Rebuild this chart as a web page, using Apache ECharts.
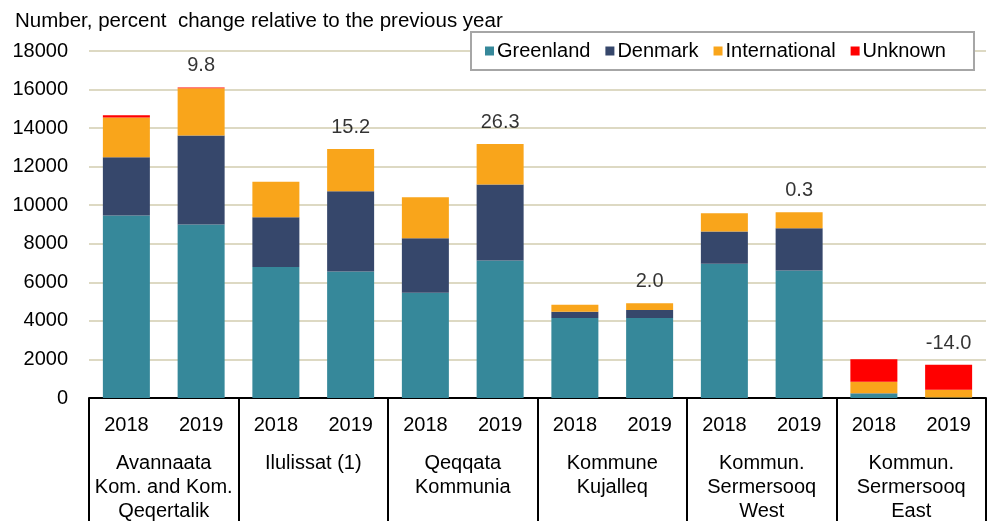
<!DOCTYPE html>
<html>
<head>
<meta charset="utf-8">
<script src="https://cdn.jsdelivr.net/npm/echarts@6/dist/echarts.min.js"></script>
<style>
  html, body { margin: 0; padding: 0; background: #fff; }
  #chart { width: 995px; height: 521px; }
</style>
</head>
<body>
<div id="chart"></div>
<script>
const years = ['2018', '2019', '2018', '2019', '2018', '2019', '2018', '2019', '2018', '2019', '2018', '2019'];
const groups = [
  'Avannaata\nKom. and Kom.\nQeqertalik',
  'Ilulissat (1)',
  'Qeqqata\nKommunia',
  'Kommune\nKujalleq',
  'Kommun.\nSermersooq\nWest',
  'Kommun.\nSermersooq\nEast',
];
const greenland = [9470, 9000, 6800, 6560, 5460, 7130, 4150, 4150, 6960, 6610, 230, 20];
const denmark = [3020, 4620, 2580, 4160, 2830, 3950, 330, 410, 1680, 2200, 20, 10];
const international = [2060, 2450, 1840, 2200, 2130, 2100, 360, 360, 950, 820, 590, 400];
const unknown = [120, 40, 0, 0, 0, 0, 0, 0, 0, 0, 1170, 1300];
const pctChange = ['', '9.8', '', '15.2', '', '26.3', '', '2.0', '', '0.3', '', '-14.0'];

const FONT = '"Liberation Sans", Arial, sans-serif';
const FS = 20;
const totals = years.map((_, i) => greenland[i] + denmark[i] + international[i] + unknown[i]);
const labelPoints = totals.map((t, i) => (pctChange[i] ? t : '-'));

const chart = echarts.init(document.getElementById('chart'));

function barSeries(name, data, color) {
  return {
    name,
    type: 'bar',
    stack: 'total',
    data,
    barWidth: 47,
    itemStyle: { color },
  };
}

chart.setOption({
  animation: false,
  textStyle: { fontFamily: FONT },
  title: {
    text: 'Number, percent  change relative to the previous year',
    left: 10,
    top: 6,
    textStyle: { fontFamily: FONT, fontSize: 20.5, fontWeight: 'normal', color: '#000' },
  },
  legend: {
    left: 471,
    top: 32,
    padding: [9, 28, 9, 14],
    itemGap: 15,
    itemWidth: 9,
    itemHeight: 9,
    icon: 'rect',
    borderColor: '#a6a6a6',
    borderWidth: 2,
    backgroundColor: '#fff',
    textStyle: { fontFamily: FONT, fontSize: FS, color: '#000', padding: [0, 0, 0, -2] },
    data: ['Greenland', 'Denmark', 'International', 'Unknown'],
  },
  grid: { left: 89, right: 9, top: 51, bottom: 123, containLabel: false, outerBoundsMode: 'none' },
  xAxis: [
    {
      type: 'category',
      data: years,
      position: 'bottom',
      axisLine: { show: true, lineStyle: { color: '#000', width: 2 } },
      axisTick: { show: false },
      axisLabel: { interval: 0, margin: 17, fontSize: FS, color: '#000', fontFamily: FONT },
    },
    {
      type: 'category',
      data: groups,
      position: 'bottom',
      axisLine: { show: false },
      axisTick: { show: true, length: 124, interval: 0, lineStyle: { color: '#000', width: 2 } },
      axisLabel: { interval: 0, margin: 53, fontSize: FS, lineHeight: 24, color: '#000', fontFamily: FONT },
    },
  ],
  yAxis: {
    type: 'value',
    min: 0,
    max: 18000,
    interval: 2000,
    axisLine: { show: false },
    axisTick: { show: false },
    axisLabel: { margin: 21, fontSize: FS, color: '#000', fontFamily: FONT, formatter: (v) => String(v) },
    splitLine: { lineStyle: { color: '#ddd9c3', width: 2 } },
  },
  series: [
    barSeries('Greenland', greenland, '#36889a'),
    barSeries('Denmark', denmark, '#36476b'),
    barSeries('International', international, '#f9a51b'),
    barSeries('Unknown', unknown, '#ff0000'),
    {
      name: 'pct',
      type: 'scatter',
      data: labelPoints,
      symbolSize: 1,
      itemStyle: { color: 'rgba(0,0,0,0)' },
      label: {
        show: true,
        position: 'top',
        distance: 11,
        fontSize: FS,
        color: '#000',
        fontFamily: FONT,
        formatter: (p) => pctChange[p.dataIndex],
      },
      z: 5,
    },
  ],
});
</script>
</body>
</html>
